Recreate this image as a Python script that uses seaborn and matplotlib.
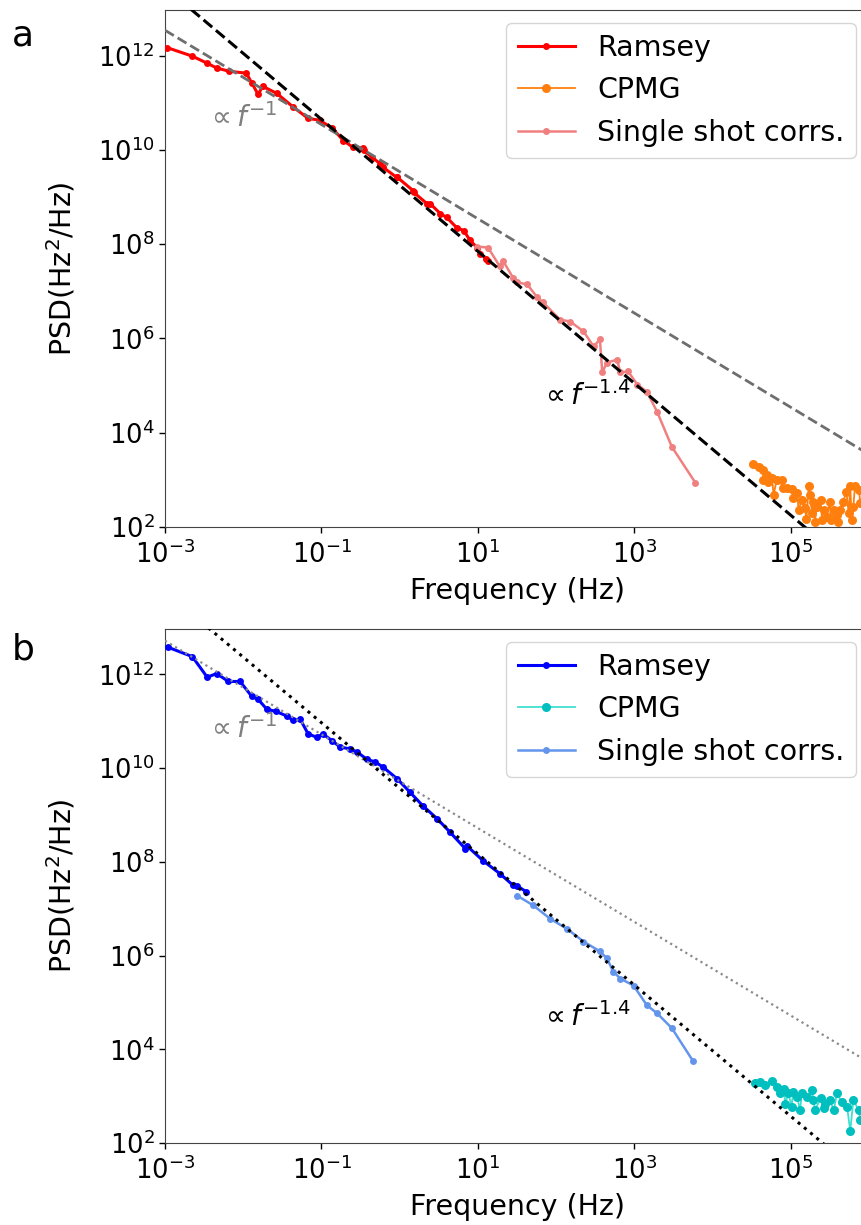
import numpy as np
import pandas as pd
import matplotlib
matplotlib.use("Agg")
import matplotlib.pyplot as plt
import matplotlib.ticker as mticker
import seaborn as sns

# ---------------- data (log10 values) ----------------
# Panel a
ramsey_a_logf = [-2.97, -2.65, -2.46, -2.34, -2.18, -1.96, -1.89, -1.81, -1.75, -1.57,
                 -1.36, -1.17, -1.02, -0.86, -0.72, -0.60, -0.47, -0.46, -0.35, -0.25,
                 -0.21, -0.04, -0.03, 0.17, 0.18, 0.35, 0.39, 0.52, 0.60, 0.73,
                 0.82, 0.90, 0.99, 1.03, 1.11, 1.13]
ramsey_a_logp = [12.17, 11.99, 11.84, 11.74, 11.67, 11.63, 11.42, 11.18, 11.35, 11.20,
                 10.91, 10.67, 10.63, 10.46, 10.20, 10.06, 10.04, 9.99, 9.84, 9.71,
                 9.63, 9.42, 9.42, 9.14, 9.10, 8.86, 8.86, 8.65, 8.57, 8.35,
                 8.29, 8.08, 7.93, 7.80, 7.69, 7.65]

single_a_logf = [0.99, 1.13, 1.28, 1.32, 1.45, 1.50, 1.63, 1.76, 1.83, 2.05, 2.18, 2.35,
                 2.48, 2.56, 2.59, 2.65, 2.78, 2.82, 2.92, 3.04, 3.16, 3.29, 3.48, 3.78]
single_a_logp = [7.95, 7.93, 7.53, 7.65, 7.29, 7.19, 7.15, 6.87, 6.77, 6.40, 6.36, 6.15,
                 5.83, 5.98, 5.28, 5.49, 5.55, 5.28, 5.30, 5.02, 4.87, 4.45, 3.70, 2.94]

cpmg_a_logf = [4.52, 4.59, 4.64, 4.65, 4.69, 4.71, 4.76, 4.78, 4.82, 4.89, 4.90, 4.95,
               5.01, 5.03, 5.08, 5.10, 5.14, 5.18, 5.20, 5.23, 5.25, 5.27, 5.29, 5.31,
               5.33, 5.38, 5.40, 5.42, 5.46, 5.50, 5.51, 5.55, 5.59, 5.60, 5.63, 5.67,
               5.71, 5.74, 5.76, 5.78, 5.80, 5.82, 5.87, 5.89]
cpmg_a_logp = [3.33, 3.28, 3.21, 3.00, 3.11, 2.96, 3.04, 2.68, 3.00, 3.00, 2.82, 2.82,
               2.80, 2.61, 2.72, 2.36, 2.57, 2.40, 2.18, 2.86, 2.68, 2.29, 2.54, 2.11,
               2.43, 2.57, 2.15, 2.36, 2.22, 2.54, 2.15, 2.36, 2.26, 2.11, 2.36, 2.54,
               2.75, 2.29, 2.86, 2.15, 2.43, 2.86, 2.79, 2.51]

# Panel b
ramsey_b_logf = [-2.96, -2.65, -2.46, -2.34, -2.19, -2.04, -1.89, -1.81, -1.70, -1.58,
                 -1.44, -1.36, -1.27, -1.17, -1.06, -0.98, -0.86, -0.76, -0.63, -0.54,
                 -0.42, -0.31, -0.21, -0.03, 0.13, 0.30, 0.48, 0.64, 0.84, 0.86,
                 1.07, 1.28, 1.45, 1.50, 1.62]
ramsey_b_logp = [12.58, 12.38, 11.94, 12.02, 11.85, 11.85, 11.53, 11.47, 11.26, 11.21,
                 11.11, 11.02, 11.04, 10.73, 10.66, 10.73, 10.58, 10.45, 10.41, 10.34,
                 10.19, 10.13, 10.02, 9.77, 9.49, 9.19, 8.92, 8.64, 8.28, 8.34,
                 8.02, 7.75, 7.50, 7.49, 7.36]

single_b_logf = [1.50, 1.71, 1.92, 2.14, 2.35, 2.56, 2.65, 2.73, 2.82, 2.99,
                 3.16, 3.29, 3.48, 3.75]
single_b_logp = [7.28, 7.07, 6.79, 6.57, 6.30, 6.09, 5.94, 5.66, 5.51, 5.36,
                 4.94, 4.77, 4.45, 3.75]

cpmg_b_logf = [4.54, 4.61, 4.67, 4.76, 4.82, 4.86, 4.91, 4.93, 4.97, 5.01, 5.03, 5.08,
               5.12, 5.14, 5.21, 5.27, 5.29, 5.31, 5.38, 5.42, 5.44, 5.50, 5.55, 5.59,
               5.65, 5.72, 5.76, 5.80, 5.87, 5.89]
cpmg_b_logp = [3.27, 3.30, 3.23, 3.33, 3.20, 3.06, 3.16, 2.84, 3.06, 2.77, 3.09, 2.99,
               2.70, 3.06, 2.99, 3.13, 2.91, 2.70, 2.95, 2.74, 2.84, 2.91, 2.70, 3.06,
               2.88, 2.77, 2.26, 2.91, 2.70, 2.49]

# power-law guide lines: log10 amplitude and exponent
fit_a = {"one": (9.54, -1.0), "onefour": (9.25, -1.4)}
fit_b = {"one": (9.72, -1.0), "onefour": (9.57, -1.4)}
fit_logf_range = [-3.0, 6.0]

legend_labels = ["Ramsey", "CPMG", "Single shot corrs."]

# ---------------- figure ----------------
W, H = 861, 1225
fig = plt.figure(figsize=(W / 100, H / 100), dpi=100)
ax_a = fig.add_axes([165 / W, 1 - 527 / H, (869 - 165) / W, (527 - 10) / H])
ax_b = fig.add_axes([165 / W, 1 - 1143 / H, (869 - 165) / W, (1143 - 629) / H])

TICK_FS = 18.5
LABEL_FS = 20.5
ANN_FS = 20


def series(logf, logp):
    return pd.DataFrame({"f": np.power(10.0, logf), "p": np.power(10.0, logp)})


guide_gray_lw = {"--": 2.0, ":": 1.6}


def draw_panel(ax, ramsey, cpmg, single, fit, cols, guide_ls, guide_gray, labpos):
    sns.lineplot(data=series(*ramsey), x="f", y="p", ax=ax, color=cols[0],
                 marker="o", markersize=5, markeredgewidth=0, lw=2.2,
                 estimator=None, label=legend_labels[0], zorder=3)
    sns.lineplot(data=series(*cpmg), x="f", y="p", ax=ax, color=cols[1],
                 marker="o", markersize=6.5, markeredgewidth=0, lw=1.3,
                 markerfacecolor=cols[3], estimator=None,
                 label=legend_labels[1], zorder=3)
    sns.lineplot(data=series(*single), x="f", y="p", ax=ax, color=cols[2],
                 marker="o", markersize=5, markeredgewidth=0, lw=1.8,
                 estimator=None, label=legend_labels[2], zorder=3)
    fl = np.power(10.0, fit_logf_range)
    a1, e1 = fit["one"]
    a2, e2 = fit["onefour"]
    ax.plot(fl, 10 ** a1 * fl ** e1, ls=guide_ls, color=guide_gray,
            lw=guide_gray_lw[guide_ls], zorder=4)
    ax.plot(fl, 10 ** a2 * fl ** e2, ls=guide_ls, color="black", lw=2.2, zorder=4)

    ax.set_xscale("log")
    ax.set_yscale("log")
    ax.set_xlim(1e-3, 1e6)
    ax.set_ylim(1e2, 10 ** 12.97)
    ax.xaxis.set_major_locator(mticker.FixedLocator([1e-3, 1e-1, 1e1, 1e3, 1e5]))
    ax.yaxis.set_major_locator(mticker.FixedLocator([1e2, 1e4, 1e6, 1e8, 1e10, 1e12]))
    ax.xaxis.set_minor_locator(mticker.NullLocator())
    ax.yaxis.set_minor_locator(mticker.NullLocator())
    ax.xaxis.set_major_formatter(mticker.LogFormatterSciNotation())
    ax.yaxis.set_major_formatter(mticker.LogFormatterSciNotation())
    ax.tick_params(labelsize=TICK_FS, length=4, width=1)
    ax.tick_params(axis="x", pad=5.5)
    ax.set_xlabel("Frequency (Hz)", fontsize=LABEL_FS, labelpad=6)
    ax.set_ylabel(r"PSD(Hz$^2$/Hz)", fontsize=LABEL_FS, labelpad=15)
    for s in ax.spines.values():
        s.set_color("#444444")

    ax.text(10 ** -2.48, 10 ** labpos[0], r"$\propto f^{-1}$", color="gray",
            fontsize=ANN_FS, ha="left", va="center")
    ax.text(10 ** 1.80, 10 ** labpos[1], r"$\propto f^{-1.4}$", color="black",
            fontsize=ANN_FS, ha="left", va="center")

    leg = ax.legend(loc="upper right", fontsize=LABEL_FS, frameon=True,
                    borderaxespad=0.45)
    leg.get_frame().set_edgecolor("#cccccc")


draw_panel(ax_a,
           (ramsey_a_logf, ramsey_a_logp),
           (cpmg_a_logf, cpmg_a_logp),
           (single_a_logf, single_a_logp),
           fit_a, ["red", "#ff7f0e", "lightcoral", "#ff7f0e"], "--", "#6e6e6e",
           (10.67, 4.77))
draw_panel(ax_b,
           (ramsey_b_logf, ramsey_b_logp),
           (cpmg_b_logf, cpmg_b_logp),
           (single_b_logf, single_b_logp),
           fit_b, ["blue", "turquoise", "cornflowerblue", "c"], ":", "#8a8a8a",
           (10.83, 4.68))

fig.text(23 / W, 1 - 35 / H, "a", fontsize=26, ha="center", va="center")
fig.text(23 / W, 1 - 650 / H, "b", fontsize=26, ha="center", va="center")

fig.savefig("out.png", dpi=100)
